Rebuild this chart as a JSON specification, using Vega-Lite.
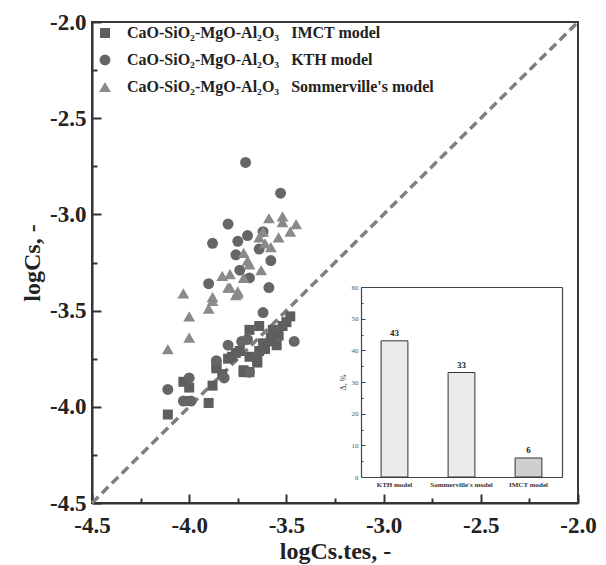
{
  "$schema": "https://vega.github.io/schema/vega-lite/v6.json",
  "width": 486,
  "height": 481,
  "autosize": {"type": "none"},
  "padding": {"left": 92, "top": 22, "right": 28, "bottom": 62},
  "background": "white",
  "datasets": {
    "diag": [{"x": -4.5, "y": -4.5}, {"x": -2.0, "y": -2.0}],
    "bars": [
      {"model": "KTH model", "delta": 43},
      {"model": "Sommerville's model", "delta": 33},
      {"model": "IMCT model", "delta": 6}
    ],
    "points": [
      {"series": "IMCT model", "x": -4.11, "y": -4.04},
      {"series": "IMCT model", "x": -4.01, "y": -3.97},
      {"series": "IMCT model", "x": -3.90, "y": -3.98},
      {"series": "IMCT model", "x": -3.88, "y": -3.89},
      {"series": "IMCT model", "x": -4.03, "y": -3.87},
      {"series": "IMCT model", "x": -4.00, "y": -3.90},
      {"series": "IMCT model", "x": -3.86, "y": -3.80},
      {"series": "IMCT model", "x": -3.83, "y": -3.83},
      {"series": "IMCT model", "x": -3.86, "y": -3.79},
      {"series": "IMCT model", "x": -3.80, "y": -3.75},
      {"series": "IMCT model", "x": -3.78, "y": -3.74},
      {"series": "IMCT model", "x": -3.74, "y": -3.71},
      {"series": "IMCT model", "x": -3.72, "y": -3.82},
      {"series": "IMCT model", "x": -3.69, "y": -3.82},
      {"series": "IMCT model", "x": -3.72, "y": -3.81},
      {"series": "IMCT model", "x": -3.69, "y": -3.74},
      {"series": "IMCT model", "x": -3.65, "y": -3.77},
      {"series": "IMCT model", "x": -3.64, "y": -3.71},
      {"series": "IMCT model", "x": -3.61, "y": -3.70},
      {"series": "IMCT model", "x": -3.62, "y": -3.67},
      {"series": "IMCT model", "x": -3.58, "y": -3.66},
      {"series": "IMCT model", "x": -3.58, "y": -3.64},
      {"series": "IMCT model", "x": -3.54, "y": -3.63},
      {"series": "IMCT model", "x": -3.69, "y": -3.60},
      {"series": "IMCT model", "x": -3.64, "y": -3.58},
      {"series": "IMCT model", "x": -3.52, "y": -3.58},
      {"series": "IMCT model", "x": -3.48, "y": -3.53},
      {"series": "IMCT model", "x": -3.65, "y": -3.76},
      {"series": "IMCT model", "x": -3.57, "y": -3.60},
      {"series": "IMCT model", "x": -3.50, "y": -3.56},
      {"series": "IMCT model", "x": -3.76, "y": -3.72},
      {"series": "IMCT model", "x": -3.55, "y": -3.68},
      {"series": "KTH model", "x": -3.71, "y": -2.73},
      {"series": "KTH model", "x": -3.53, "y": -2.89},
      {"series": "KTH model", "x": -3.80, "y": -3.05},
      {"series": "KTH model", "x": -3.88, "y": -3.15},
      {"series": "KTH model", "x": -3.75, "y": -3.14},
      {"series": "KTH model", "x": -3.70, "y": -3.11},
      {"series": "KTH model", "x": -3.62, "y": -3.09},
      {"series": "KTH model", "x": -3.64, "y": -3.18},
      {"series": "KTH model", "x": -3.58, "y": -3.24},
      {"series": "KTH model", "x": -3.76, "y": -3.21},
      {"series": "KTH model", "x": -3.74, "y": -3.29},
      {"series": "KTH model", "x": -3.69, "y": -3.33},
      {"series": "KTH model", "x": -3.90, "y": -3.36},
      {"series": "KTH model", "x": -3.59, "y": -3.38},
      {"series": "KTH model", "x": -3.62, "y": -3.51},
      {"series": "KTH model", "x": -3.80, "y": -3.68},
      {"series": "KTH model", "x": -3.73, "y": -3.66},
      {"series": "KTH model", "x": -3.70, "y": -3.65},
      {"series": "KTH model", "x": -3.86, "y": -3.76},
      {"series": "KTH model", "x": -3.82, "y": -3.85},
      {"series": "KTH model", "x": -3.69, "y": -3.82},
      {"series": "KTH model", "x": -3.46, "y": -3.66},
      {"series": "KTH model", "x": -4.11, "y": -3.91},
      {"series": "KTH model", "x": -4.00, "y": -3.85},
      {"series": "KTH model", "x": -4.03, "y": -3.97},
      {"series": "KTH model", "x": -3.99, "y": -3.97},
      {"series": "Sommerville's model", "x": -3.59, "y": -3.02},
      {"series": "Sommerville's model", "x": -3.52, "y": -3.01},
      {"series": "Sommerville's model", "x": -3.52, "y": -3.04},
      {"series": "Sommerville's model", "x": -3.45, "y": -3.05},
      {"series": "Sommerville's model", "x": -3.48, "y": -3.09},
      {"series": "Sommerville's model", "x": -3.54, "y": -3.12},
      {"series": "Sommerville's model", "x": -3.62, "y": -3.09},
      {"series": "Sommerville's model", "x": -3.64, "y": -3.12},
      {"series": "Sommerville's model", "x": -3.61, "y": -3.15},
      {"series": "Sommerville's model", "x": -3.58, "y": -3.17},
      {"series": "Sommerville's model", "x": -3.72, "y": -3.20},
      {"series": "Sommerville's model", "x": -3.70, "y": -3.24},
      {"series": "Sommerville's model", "x": -3.69, "y": -3.26},
      {"series": "Sommerville's model", "x": -3.63, "y": -3.29},
      {"series": "Sommerville's model", "x": -3.79, "y": -3.31},
      {"series": "Sommerville's model", "x": -3.83, "y": -3.32},
      {"series": "Sommerville's model", "x": -3.72, "y": -3.33},
      {"series": "Sommerville's model", "x": -3.79, "y": -3.38},
      {"series": "Sommerville's model", "x": -3.75, "y": -3.40},
      {"series": "Sommerville's model", "x": -3.76, "y": -3.42},
      {"series": "Sommerville's model", "x": -3.88, "y": -3.43},
      {"series": "Sommerville's model", "x": -3.88, "y": -3.45},
      {"series": "Sommerville's model", "x": -3.90, "y": -3.49},
      {"series": "Sommerville's model", "x": -4.03, "y": -3.41},
      {"series": "Sommerville's model", "x": -4.00, "y": -3.53},
      {"series": "Sommerville's model", "x": -4.00, "y": -3.64},
      {"series": "Sommerville's model", "x": -4.11, "y": -3.70},
      {"series": "Sommerville's model", "x": -3.80, "y": -3.38},
      {"series": "Sommerville's model", "x": -3.75, "y": -3.41}
    ]
  },
  "layer": [
    {
      "encoding": {
        "x": {
          "field": "x", "type": "quantitative",
          "scale": {"domain": [-4.5, -2.0], "nice": false, "zero": false},
          "axis": {
            "values": [-4.5, -4.25, -4.0, -3.75, -3.5, -3.25, -3.0, -2.75, -2.5, -2.25, -2.0],
            "labelExpr": "abs(datum.value*2 - round(datum.value*2)) < 0.01 ? (datum.value < 0 ? '-' : '') + format(abs(datum.value), '.1f') : ''",
            "tickSize": {"condition": {"test": "abs(datum.value*2 - round(datum.value*2)) < 0.01", "value": -9}, "value": -5},
            "tickColor": "#333", "tickWidth": 2,
            "domainColor": "#333", "domainWidth": 2,
            "grid": false,
            "labelFont": "Liberation Serif", "labelFontWeight": "bold", "labelFontSize": 23,
            "labelColor": "#222", "labelPadding": 20, "labelFlush": false,
            "title": "logCs.tes, -",
            "titleFont": "Liberation Serif", "titleFontSize": 24, "titleFontWeight": "bold",
            "titleColor": "#222", "titlePadding": 2
          }
        },
        "y": {
          "field": "y", "type": "quantitative",
          "scale": {"domain": [-4.5, -2.0], "nice": false, "zero": false},
          "axis": {
            "values": [-4.5, -4.25, -4.0, -3.75, -3.5, -3.25, -3.0, -2.75, -2.5, -2.25, -2.0],
            "labelExpr": "abs(datum.value*2 - round(datum.value*2)) < 0.01 ? (datum.value < 0 ? '-' : '') + format(abs(datum.value), '.1f') : ''",
            "tickSize": {"condition": {"test": "abs(datum.value*2 - round(datum.value*2)) < 0.01", "value": -9}, "value": -5},
            "tickColor": "#333", "tickWidth": 2,
            "domainColor": "#333", "domainWidth": 2,
            "grid": false,
            "labelFont": "Liberation Serif", "labelFontWeight": "bold", "labelFontSize": 23,
            "labelColor": "#222", "labelPadding": 15, "labelFlush": false,
            "title": "logCs, -",
            "titleFont": "Liberation Serif", "titleFontSize": 24, "titleFontWeight": "bold",
            "titleColor": "#222", "titlePadding": 5
          }
        }
      },
      "layer": [
        {
          "data": {"name": "diag"},
          "mark": {"type": "line", "color": "#7f7f7f", "strokeWidth": 3.5, "strokeDash": [9, 5]}
        },
        {
          "data": {"name": "points"},
          "mark": {"type": "point", "filled": true, "opacity": 1, "strokeWidth": 0},
          "encoding": {
            "shape": {
              "field": "series", "type": "nominal",
              "scale": {"domain": ["IMCT model", "KTH model", "Sommerville's model"], "range": ["square", "circle", "triangle-up"]},
              "legend": {"labelExpr": "'CaO-SiO₂-MgO-Al₂O₃\u00a0\u00a0\u00a0' + datum.label"}
            },
            "color": {
              "field": "series", "type": "nominal",
              "scale": {"domain": ["IMCT model", "KTH model", "Sommerville's model"], "range": ["#5e5e5e", "#666666", "#8a8a8a"]},
              "legend": {"labelExpr": "'CaO-SiO₂-MgO-Al₂O₃\u00a0\u00a0\u00a0' + datum.label"}
            },
            "size": {
              "field": "series", "type": "nominal",
              "scale": {"domain": ["IMCT model", "KTH model", "Sommerville's model"], "range": [100, 140, 150]},
              "legend": {"labelExpr": "'CaO-SiO₂-MgO-Al₂O₃\u00a0\u00a0\u00a0' + datum.label"}
            }
          }
        }
      ]
    },
    {
      "data": {"name": "bars"},
      "mark": {"type": "bar", "stroke": "#333", "strokeWidth": 1},
      "encoding": {
        "x": {
          "field": "model", "type": "nominal", "sort": null,
          "scale": {"domain": ["KTH model", "Sommerville's model", "IMCT model"], "range": [269, 470], "paddingInner": 0.6, "paddingOuter": 0.3},
          "axis": {
            "orient": "bottom", "offset": -26, "title": null, "labelAngle": 0,
            "labelFont": "Liberation Serif", "labelFontWeight": "bold", "labelFontSize": 7, "labelColor": "#333",
            "labelPadding": 6, "tickSize": -3, "tickColor": "#444", "domainColor": "#444", "domainWidth": 1.2, "grid": false
          }
        },
        "y": {
          "field": "delta", "type": "quantitative",
          "scale": {"domain": [0, 60], "range": [455, 265], "nice": false},
          "axis": {
            "orient": "left", "offset": -269,
            "values": [0, 5, 10, 15, 20, 25, 30, 35, 40, 45, 50, 55, 60],
            "labelExpr": "datum.value % 10 == 0 ? datum.label : ''",
            "tickSize": {"condition": {"test": "datum.value % 10 == 0", "value": -4}, "value": -2},
            "tickColor": "#444", "domainColor": "#444", "domainWidth": 1.2, "grid": false,
            "labelFont": "Liberation Serif", "labelFontSize": 7, "labelColor": "#555", "labelPadding": 7,
            "title": "Δ, %", "titleFont": "Liberation Serif", "titleFontSize": 8, "titleFontWeight": "normal",
            "titleColor": "#444", "titlePadding": 4
          }
        },
        "fill": {
          "field": "model", "type": "nominal", "legend": null,
          "scale": {"domain": ["KTH model", "Sommerville's model", "IMCT model"], "range": ["#ebebeb", "#ebebeb", "#cfcfcf"]}
        }
      }
    },
    {
      "data": {"name": "bars"},
      "mark": {"type": "text", "baseline": "bottom", "dy": -3, "font": "Liberation Serif", "fontWeight": "bold", "fontSize": 9, "color": "#222"},
      "encoding": {
        "x": {
          "field": "model", "type": "nominal", "sort": null,
          "scale": {"domain": ["KTH model", "Sommerville's model", "IMCT model"], "range": [269, 470], "paddingInner": 0.6, "paddingOuter": 0.3},
          "axis": {"orient": "top", "offset": -265, "labels": false, "ticks": false, "title": null, "domainColor": "#444", "domainWidth": 1.2, "grid": false}
        },
        "y": {
          "field": "delta", "type": "quantitative",
          "scale": {"domain": [0, 60], "range": [455, 265], "nice": false},
          "axis": {"orient": "right", "offset": -16, "labels": false, "ticks": false, "title": null, "domainColor": "#444", "domainWidth": 1.2, "grid": false}
        },
        "text": {"field": "delta", "type": "quantitative"}
      }
    }
  ],
  "resolve": {
    "scale": {"x": "independent", "y": "independent", "fill": "independent"},
    "axis": {"x": "independent", "y": "independent"},
    "legend": {"fill": "independent"}
  },
  "config": {
    "view": {"stroke": "#3a3a3a", "strokeWidth": 2},
    "font": "Liberation Serif",
    "legend": {
      "orient": "none", "legendX": 5, "legendY": 3,
      "title": null, "padding": 0,
      "labelFont": "Liberation Serif", "labelFontWeight": "bold", "labelFontSize": 16, "labelColor": "#222",
      "labelLimit": 0, "labelOffset": 14, "rowPadding": 11
    }
  }
}
